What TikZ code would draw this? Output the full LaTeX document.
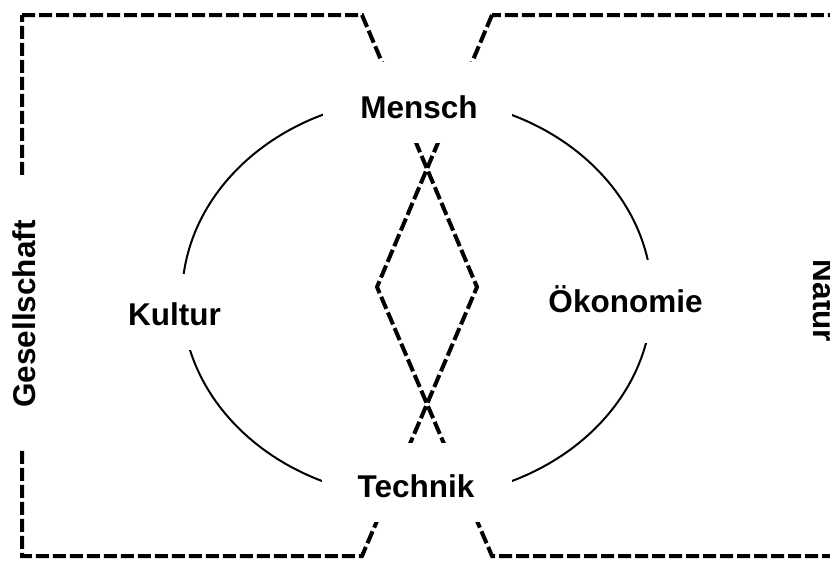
\documentclass[tikz,border=0pt]{standalone}
\usepackage{fontspec}
\setmainfont{Liberation Sans}
\begin{document}
\begin{tikzpicture}[x=1pt,y=-1pt,
  field/.style={line width=4pt, dash pattern=on 13pt off 4pt},
  ring/.style={line width=2pt},
  mask/.style={fill=white, draw=none},
  term/.style={font=\fontsize{31.5}{36}\selectfont\bfseries, inner sep=0pt, anchor=base}]
\useasboundingbox (0,0) rectangle (830,562);

% the two overlapping dashed fields
\begin{scope}
  \clip (0,0) rectangle (830,562);
  \draw[field] (22,15) -- (362,15) -- (477,287) -- (362,556) -- (22,556) -- cycle;
  \draw[field] (492,15) -- (377,287) -- (492,556) -- (850,556) -- (850,15) -- cycle;
\end{scope}

% the ring through the four terms
\draw[ring] (417,298) ellipse [x radius=235pt, y radius=200pt];

% white space kept free around the labels
\fill[mask] (323,62) rectangle (512,143);
\fill[mask] (322,443) rectangle (512,522);
\fill[mask] (100,274) rectangle (250,350);
\fill[mask] (540,260) rectangle (710,343);
\fill[mask] (0,175) rectangle (60,450);

% labels
\node[term] (mensch)  at (419,118) {Mensch};
\node[term] (technik) at (416,497) {Technik};
\node[term] (kultur)  at (174.5,325) {Kultur};
\node[term] (oekon)   at (625.5,312) {Ökonomie};
\node[term, rotate=90]  (ges)   at (35,314) {Gesellschaft};
\node[term, rotate=-90] (natur) at (813,301) {Natur};
\end{tikzpicture}
\end{document}
